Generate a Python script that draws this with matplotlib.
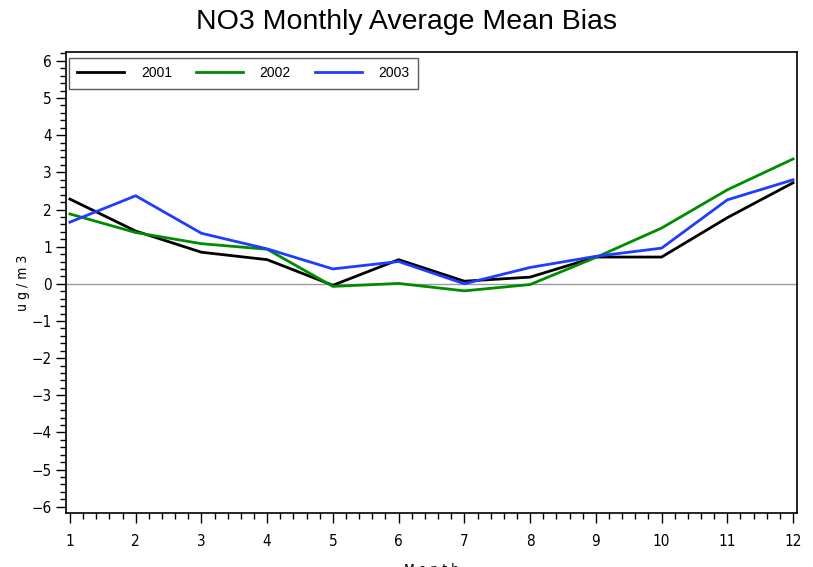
import matplotlib
matplotlib.use("Agg")
import matplotlib.pyplot as plt
from matplotlib.ticker import MultipleLocator

months = [1, 2, 3, 4, 5, 6, 7, 8, 9, 10, 11, 12]
bias_2001 = [2.28, 1.42, 0.85, 0.65, -0.04, 0.65, 0.07, 0.18, 0.72, 0.72, 1.78, 2.72]
bias_2002 = [1.88, 1.38, 1.08, 0.93, -0.07, 0.01, -0.19, -0.02, 0.71, 1.50, 2.53, 3.36]
bias_2003 = [1.66, 2.37, 1.36, 0.94, 0.40, 0.60, 0.00, 0.44, 0.74, 0.96, 2.26, 2.80]
series_labels = ["2001", "2002", "2003"]
colors = ["#000000", "#008c00", "#1f3cff"]

narrow = ["DejaVu Sans"]

fig = plt.figure(figsize=(8.13, 5.67), dpi=100)
ax = fig.add_axes([66/813, 1 - 513/567, (797-66)/813, (513-52)/567])

for vals, lab, c in zip([bias_2001, bias_2002, bias_2003], series_labels, colors):
    ax.plot(months, vals, color=c, lw=2.0, label=lab)

ax.axhline(0, color="#999999", lw=1.0, zorder=0)

ax.set_xlim(0.94, 12.06)
ax.set_ylim(-6.17, 6.24)
ax.xaxis.set_major_locator(MultipleLocator(1))
ax.xaxis.set_minor_locator(MultipleLocator(0.2))
ax.yaxis.set_major_locator(MultipleLocator(1))
ax.yaxis.set_minor_locator(MultipleLocator(0.2))
ax.tick_params(which="major", direction="out", length=7, width=1, labelsize=11)
ax.tick_params(which="minor", direction="out", length=4, width=1)
ax.tick_params(axis="x", pad=8)
ax.tick_params(axis="y", pad=3)
for lbl in ax.get_xticklabels() + ax.get_yticklabels():
    lbl.set_family(narrow)
    lbl.set_fontstretch("condensed")
for s in ax.spines.values():
    s.set_linewidth(1.2)

ax.set_ylabel("u g / m 3", family=narrow, fontstretch="condensed", fontsize=10)
ax.yaxis.set_label_coords(-0.049, 0.5)
ax.set_xlabel("M o n t h", family=narrow, fontstretch="condensed", fontsize=10, labelpad=10)

leg = ax.legend(loc="upper left", ncol=3, frameon=True, fancybox=False,
                edgecolor="#333333", fontsize=10, handlelength=3.4,
                columnspacing=1.7, handletextpad=1.2, borderpad=0.6,
                bbox_to_anchor=(0.004, 0.987), borderaxespad=0.0)
leg.get_frame().set_linewidth(1.0)
for t in leg.get_texts():
    t.set_family(["Liberation Sans", "DejaVu Sans"])

fig.text(406/813, 1 - 22/567, "NO3 Monthly Average Mean Bias", ha="center", va="center",
         fontsize=20.5, family=["Liberation Sans", "DejaVu Sans"])

fig.savefig("out.png", dpi=100)
